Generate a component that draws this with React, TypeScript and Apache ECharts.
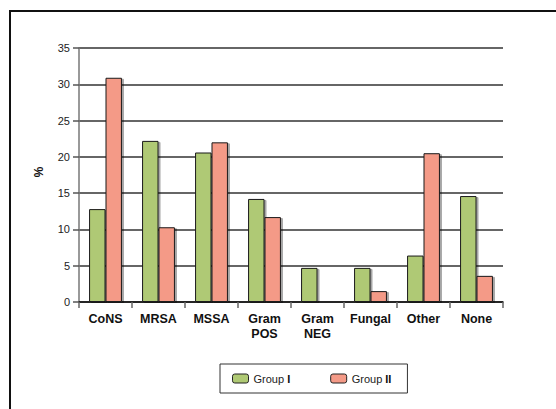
import React, { useEffect, useRef } from "react";
import * as echarts from "echarts";

const categories = ["CoNS", "MRSA", "MSSA", "Gram\nPOS", "Gram\nNEG", "Fungal", "Other", "None"];
const groupI = [12.8, 22.2, 20.6, 14.2, 4.7, 4.7, 6.4, 14.6];
const groupII = [30.9, 10.3, 22.0, 11.7, 0, 1.5, 20.5, 3.6];
const seriesNames = ["Group I", "Group II"];
const yMin = 0;
const yMax = 35;
const yStep = 5;

export default function App() {
  const ref = useRef<HTMLDivElement>(null);
  useEffect(() => {
    document.body.style.margin = "0";
    const chart = echarts.init(ref.current!, null, { renderer: "svg" });
    const font = "'Liberation Sans', Arial, Helvetica, sans-serif";
    const barStyle = (color: string) => ({
      color,
      borderColor: "#1a1a1a",
      borderWidth: 1,
      shadowColor: "rgba(0,0,0,0.35)",
      shadowOffsetX: 2,
      shadowOffsetY: 1,
      shadowBlur: 1,
    });
    chart.setOption({
      animation: false,
      backgroundColor: "#fff",
      textStyle: { fontFamily: font },
      grid: { left: 79, right: 53, top: 48, bottom: 107, containLabel: false },
      graphic: [
        {
          type: "rect",
          shape: { x: 10, y: 11, width: 570, height: 420 },
          style: { fill: "none", stroke: "#111", lineWidth: 2 },
          silent: true,
        },
        {
          type: "text",
          x: 38,
          y: 172,
          rotation: -Math.PI / 2,
          style: {
            text: "%",
            font: `bold 12px ${font}`,
            fill: "#111",
            align: "center",
            verticalAlign: "middle",
          },
        },
      ],
      legend: {
        left: 220,
        top: 364,
        orient: "horizontal",
        itemWidth: 16,
        itemHeight: 9,
        itemGap: 40,
        padding: [9, 16, 9, 12],
        borderColor: "#333",
        borderWidth: 1,
        data: seriesNames,
        formatter: (name: string) => {
          const parts = name.split(" ");
          return `{a|${parts[0]} }{b|${parts[1]}}`;
        },
        textStyle: {
          rich: {
            a: { fontSize: 11, color: "#222", fontFamily: font },
            b: { fontSize: 11, color: "#111", fontWeight: "bold", fontFamily: font },
          },
        },
        itemStyle: { borderColor: "#222", borderWidth: 1 },
      },
      xAxis: {
        type: "category",
        data: categories,
        axisLine: { show: true, lineStyle: { color: "#111", width: 1.5 } },
        axisTick: { show: true, alignWithLabel: false, interval: 0, length: 6, lineStyle: { color: "#666", width: 1.5 } },
        axisLabel: {
          interval: 0,
          margin: 9,
          fontSize: 12.5,
          fontWeight: "bold",
          color: "#111",
          lineHeight: 15,
          fontFamily: font,
        },
      },
      yAxis: {
        type: "value",
        min: yMin,
        max: yMax,
        interval: yStep,
        axisLine: { show: true, lineStyle: { color: "#777", width: 1.5 } },
        axisTick: { show: true, length: 6, lineStyle: { color: "#555", width: 1.5 } },
        axisLabel: { fontSize: 11, color: "#222", margin: 9, fontFamily: font },
        splitLine: { show: true, lineStyle: { color: "#333", width: 1.5 } },
      },
      series: [
        {
          name: seriesNames[0],
          type: "bar",
          data: groupI,
          barGap: "0%",
          barCategoryGap: "38%",
          itemStyle: barStyle("#afc974"),
        },
        {
          name: seriesNames[1],
          type: "bar",
          data: groupII,
          barGap: "0%",
          barCategoryGap: "38%",
          itemStyle: barStyle("#f49a87"),
        },
      ],
    });
    return () => chart.dispose();
  }, []);
  return <div ref={ref} style={{ width: 556, height: 409 }} />;
}
